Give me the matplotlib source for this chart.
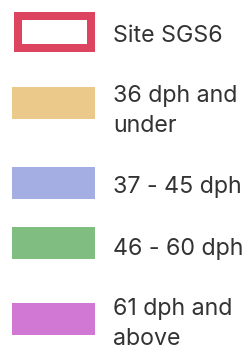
import matplotlib
matplotlib.use("Agg")
import matplotlib.pyplot as plt
from matplotlib.patches import Rectangle

site_label = "Site SGS6"
site_color = "#DC4460"
labels = ["36 dph and\nunder", "37 - 45 dph", "46 - 60 dph", "61 dph and\nabove"]
colors = ["#EBC98A", "#A5AEE3", "#80BD80", "#D078D4"]

# layout (pixels)
box_tops = [87, 167, 227, 303]
text_baselines = [102, 193, 255, 315]
W, H = 249, 350
dpi = 100
fs = 16.7
txt_color = "#333333"
font = ["Inter", "DejaVu Sans"]

fig = plt.figure(figsize=(W / dpi, H / dpi), dpi=dpi)
ax = fig.add_axes([0, 0, 1, 1])
ax.set_xlim(0, W)
ax.set_ylim(H, 0)
ax.axis("off")

ax.add_patch(Rectangle((18, 15.5), 73, 32, facecolor="white",
                       edgecolor=site_color, linewidth=8 * 72 / dpi))
ax.text(113, 41.7, site_label, fontsize=fs, color=txt_color, family=font,
        va="baseline", ha="left")

for lab, col, top, base in zip(labels, colors, box_tops, text_baselines):
    ax.add_patch(Rectangle((12, top), 83, 32, facecolor=col, edgecolor="none"))
    for i, line in enumerate(lab.split("\n")):
        ax.text(113, base + 30 * i, line, fontsize=fs, color=txt_color,
                family=font, va="baseline", ha="left")

fig.savefig("out.png", dpi=dpi)
